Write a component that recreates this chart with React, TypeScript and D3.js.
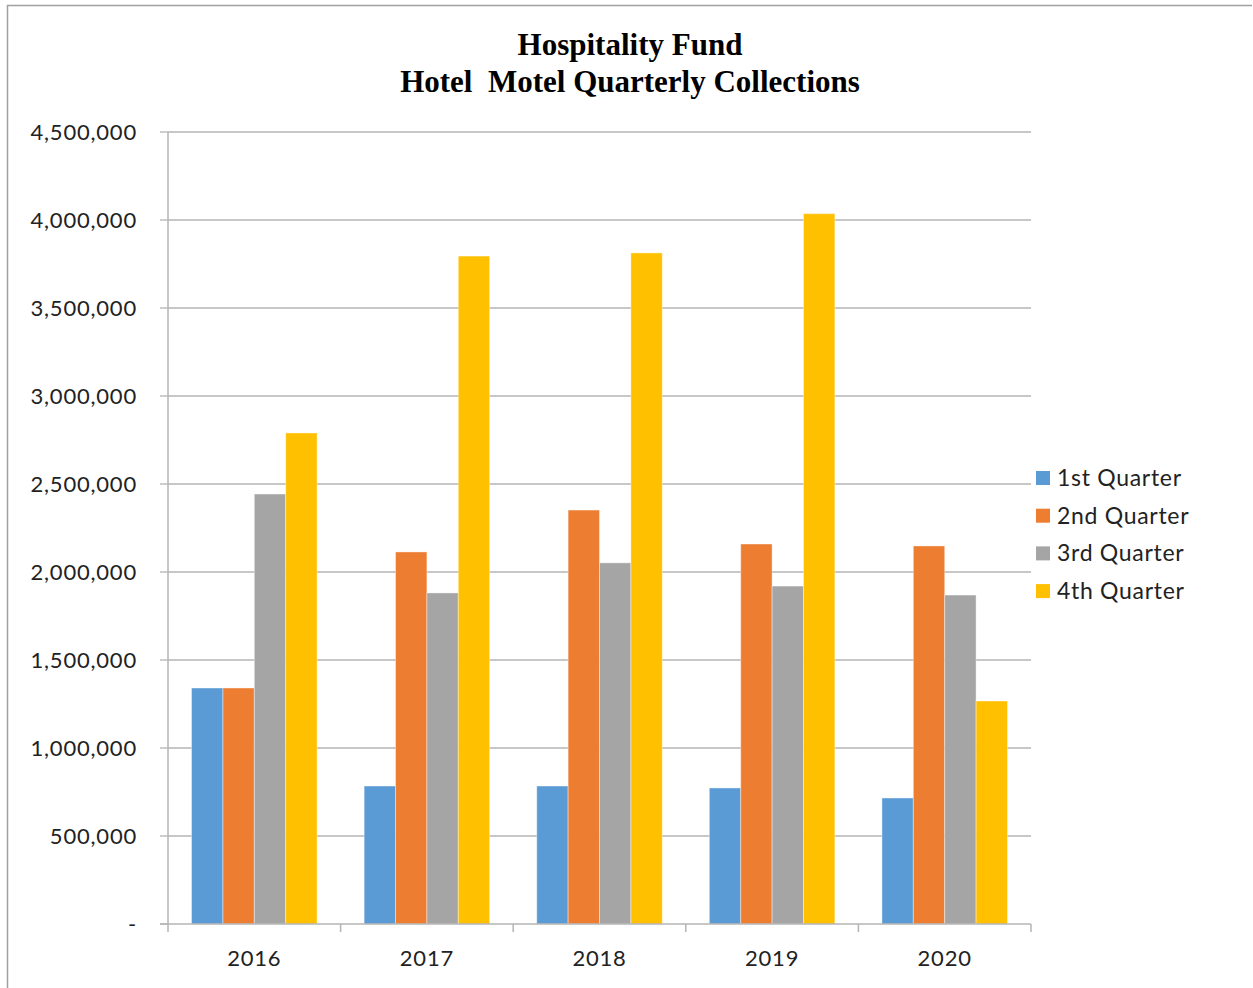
import React from "react";
import * as d3 from "d3";

const years = ["2016", "2017", "2018", "2019", "2020"];
const seriesNames = ["1st Quarter", "2nd Quarter", "3rd Quarter", "4th Quarter"];
const q1 = [1341000, 784000, 784000, 773000, 716000];
const q2 = [1341000, 2114000, 2352000, 2159000, 2148000];
const q3 = [2443000, 1881000, 2052000, 1920000, 1869000];
const q4 = [2790000, 3795000, 3813000, 4036000, 1267000];
const colors = ["#5B9BD5", "#ED7D31", "#A5A5A5", "#FFC000"];
const yTicks = [0, 500000, 1000000, 1500000, 2000000, 2500000, 3000000, 3500000, 4000000, 4500000];
const titleLines = ["Hospitality Fund", "Hotel  Motel Quarterly Collections"];

export default function App() {
  const W = 1253, H = 988;
  const left = 168, right = 1031, top = 132, bottom = 924;
  const series = [q1, q2, q3, q4];
  const x = d3.scaleBand().domain(years).range([left, right]).paddingInner(0).paddingOuter(0);
  const y = d3.scaleLinear().domain([0, 4500000]).range([bottom, top]);
  const band = x.bandwidth();
  const barW = band / 5.5;
  const groupOffset = (band - 4 * barW) / 2;
  const fmt = d3.format(",");
  const axisFont = "Lato, 'Open Sans', sans-serif";
  const grid = "#b4b4b4";
  const tickPositions = years.map((yr) => x(yr)!).concat([right]);

  return (
    <svg width={W} height={H} style={{ position: "absolute", left: 0, top: 0, background: "#fff" }}>
      <line x1={7} y1={5.5} x2={1252} y2={5.5} stroke="#a0a0a0" strokeWidth={1.5} />
      <line x1={7.5} y1={5} x2={7.5} y2={H} stroke="#a0a0a0" strokeWidth={1.5} />
      {titleLines.map((t, i) => (
        <text key={i} x={630} y={55 + i * 37} textAnchor="middle" fontFamily="'Liberation Serif', 'Times New Roman', serif" fontWeight="bold" fontSize={31} fill="#000" style={{ whiteSpace: "pre" }}>
          {t}
        </text>
      ))}
      {yTicks.map((v) => (
        <g key={v}>
          {v > 0 && <line x1={left} x2={right} y1={y(v)} y2={y(v)} stroke={grid} strokeWidth={1.3} />}
          <line x1={left - 8} x2={left} y1={y(v)} y2={y(v)} stroke={grid} strokeWidth={1.3} />
          <text x={137} y={y(v) + 7.5} textAnchor="end" fontFamily={axisFont} fontSize={22} letterSpacing={0.8} fill="#222">
            {v === 0 ? "-" : fmt(v)}
          </text>
        </g>
      ))}
      {years.map((yr, i) => (
        <g key={yr}>
          {series.map((s, j) => (
            <rect key={j} x={x(yr)! + groupOffset + j * barW} y={y(s[i])} width={barW} height={bottom - y(s[i])} fill={colors[j]} stroke="#ffffff" strokeOpacity={0.4} strokeWidth={1} />
          ))}
          <text x={x(yr)! + band / 2} y={966} textAnchor="middle" fontFamily={axisFont} fontSize={22} letterSpacing={0.8} fill="#222">
            {yr}
          </text>
        </g>
      ))}
      <line x1={left} x2={left} y1={top} y2={bottom} stroke={grid} strokeWidth={1.5} />
      <line x1={left - 8} x2={right} y1={bottom} y2={bottom} stroke={grid} strokeWidth={1.5} />
      {tickPositions.map((p, i) => (
        <line key={i} x1={p} x2={p} y1={bottom} y2={bottom + 8} stroke={grid} strokeWidth={1.5} />
      ))}
      {seriesNames.map((n, j) => (
        <g key={n}>
          <rect x={1036} y={471 + j * 37.7} width={14} height={14} fill={colors[j]} />
          <text x={1057} y={486 + j * 37.7} fontFamily={axisFont} fontSize={23} letterSpacing={0.7} fill="#222">
            {n}
          </text>
        </g>
      ))}
    </svg>
  );
}
